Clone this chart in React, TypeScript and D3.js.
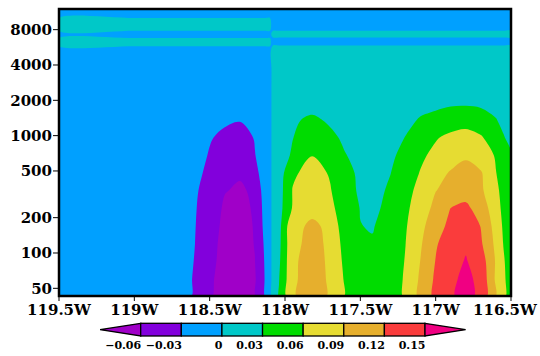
import * as d3 from "d3";

// grid longitudes, degrees east (negative = W)
const lons = [
  -119.5, -119.0, -118.7, -118.6, -118.5, -118.4, -118.3, -118.2, -118.13, -118.1,
  -118.08, -118.04, -117.95, -117.82, -117.7, -117.6, -117.5, -117.42, -117.3, -117.2,
  -117.1, -117.0, -116.9, -116.8, -116.7, -116.6, -116.55, -116.5,
];

// grid levels, bottom to top
const levels = [43, 60, 85, 120, 170, 240, 340, 480, 680, 960, 1350, 1900, 2700, 3800, 5200, 6250, 7300, 8900, 12000];

// values, one row per level (bottom first), one column per lon
const field = [
  [-0.015, -0.015, -0.015, -0.034, -0.0565, -0.074, -0.075, -0.063, -0.027, -0.012, 0.012, 0.032, 0.085, 0.11, 0.085, 0.058, 0.045, 0.041, 0.048, 0.063, 0.098, 0.127, 0.146, 0.16, 0.142, 0.089, 0.067, 0.045],
  [-0.015, -0.015, -0.015, -0.033, -0.055, -0.072, -0.074, -0.063, -0.027, -0.012, 0.012, 0.029, 0.084, 0.106, 0.085, 0.0564, 0.045, 0.039, 0.047, 0.063, 0.095, 0.125, 0.144, 0.157, 0.1425, 0.085, 0.0657, 0.0443],
  [-0.015, -0.015, -0.015, -0.031, -0.0518, -0.07, -0.072, -0.0605, -0.026, -0.012, 0.012, 0.025, 0.085, 0.102, 0.085, 0.0527, 0.042, 0.036, 0.044, 0.0615, 0.0909, 0.121, 0.1387, 0.152, 0.136, 0.087, 0.063, 0.045],
  [-0.015, -0.015, -0.015, -0.0295, -0.0496, -0.0692, -0.071, -0.059, -0.0236, -0.012, 0.012, 0.0225, 0.084, 0.097, 0.0858, 0.0476, 0.038, 0.032, 0.041, 0.0598, 0.087, 0.117, 0.136, 0.146, 0.124, 0.083, 0.059, 0.043],
  [-0.015, -0.015, -0.015, -0.0286, -0.0475, -0.0664, -0.069, -0.0584, -0.0195, -0.012, 0.012, 0.0205, 0.085, 0.093, 0.0865, 0.0377, 0.0305, 0.0285, 0.04, 0.0575, 0.0819, 0.1085, 0.127, 0.139, 0.119, 0.078, 0.056, 0.042],
  [-0.015, -0.015, -0.015, -0.0275, -0.0456, -0.0637, -0.067, -0.0572, -0.0172, -0.012, 0.012, 0.019, 0.062, 0.0855, 0.0656, 0.0476, 0.029, 0.022, 0.0399, 0.0545, 0.0748, 0.098, 0.1205, 0.127, 0.106, 0.0731, 0.052, 0.041],
  [-0.015, -0.015, -0.015, -0.0262, -0.0411, -0.0589, -0.063, -0.0563, -0.012, -0.012, 0.012, 0.0173, 0.061, 0.078, 0.0615, 0.0432, 0.025, 0.02, 0.0345, 0.0507, 0.0687, 0.0893, 0.0986, 0.107, 0.0948, 0.0678, 0.0489, 0.043],
  [-0.015, -0.015, -0.015, -0.0232, -0.0359, -0.0486, -0.0575, -0.0345, -0.022, -0.012, 0.012, 0.015, 0.056, 0.069, 0.058, 0.0397, 0.024, 0.018, 0.0295, 0.0453, 0.0617, 0.0798, 0.0925, 0.098, 0.093, 0.0605, 0.052, 0.042],
  [-0.015, -0.015, -0.015, -0.019, -0.032, -0.0425, -0.0495, -0.0307, -0.019, -0.012, 0.012, 0.013, 0.0342, 0.0595, 0.044, 0.031, 0.022, 0.016, 0.025, 0.0386, 0.055, 0.0671, 0.0774, 0.087, 0.072, 0.058, 0.048, 0.033],
  [-0.015, -0.015, -0.015, -0.016, -0.028, -0.036, -0.0405, -0.0286, -0.018, -0.012, 0.012, 0.013, 0.029, 0.05, 0.0362, 0.025, 0.019, 0.015, 0.018, 0.031, 0.0444, 0.0578, 0.0668, 0.073, 0.0632, 0.0442, 0.032, 0.022],
  [-0.015, -0.015, -0.015, -0.015, -0.02, -0.026, -0.029, -0.025, -0.016, -0.012, 0.012, 0.014, 0.026, 0.0355, 0.026, 0.019, 0.016, 0.015, 0.016, 0.022, 0.033, 0.04, 0.045, 0.0473, 0.042, 0.0315, 0.023, 0.018],
  [-0.015, -0.015, -0.015, -0.015, -0.015, -0.015, -0.015, -0.015, -0.015, -0.012, 0.012, 0.014, 0.016, 0.018, 0.016, 0.015, 0.015, 0.015, 0.015, 0.016, 0.02, 0.022, 0.026, 0.0265, 0.025, 0.02, 0.017, 0.016],
  [-0.015, -0.015, -0.015, -0.015, -0.015, -0.015, -0.015, -0.015, -0.015, -0.012, 0.012, 0.015, 0.015, 0.015, 0.015, 0.015, 0.015, 0.015, 0.015, 0.015, 0.016, 0.017, 0.018, 0.018, 0.018, 0.016, 0.015, 0.015],
  [-0.015, -0.015, -0.015, -0.015, -0.015, -0.015, -0.015, -0.015, -0.015, -0.012, 0.012, 0.015, 0.015, 0.015, 0.015, 0.015, 0.015, 0.015, 0.015, 0.015, 0.015, 0.015, 0.015, 0.015, 0.015, 0.015, 0.015, 0.015],
  [-0.0058, -0.0058, -0.0058, -0.0058, -0.0058, -0.0058, -0.0058, -0.0058, -0.0058, -0.0058, 0.0159, 0.0159, 0.0159, 0.0159, 0.0159, 0.0159, 0.0159, 0.0159, 0.0159, 0.0159, 0.0159, 0.0159, 0.0159, 0.0159, 0.0159, 0.0159, 0.0159, 0.0159],
  [0.0042, 0.0042, 0.0042, 0.0042, 0.0042, 0.0042, 0.0042, 0.0042, 0.0042, 0.0042, -0.0081, -0.0081, -0.0081, -0.0081, -0.0081, -0.0081, -0.0081, -0.0081, -0.0081, -0.0081, -0.0081, -0.0081, -0.0081, -0.0081, -0.0081, -0.0081, -0.0081, -0.0081],
  [-0.0038, -0.0038, -0.0038, -0.0038, -0.0038, -0.0038, -0.0038, -0.0038, -0.0038, -0.0038, 0.0054, 0.0054, 0.0054, 0.0054, 0.0054, 0.0054, 0.0054, 0.0054, 0.0054, 0.0054, 0.0054, 0.0054, 0.0054, 0.0054, 0.0054, 0.0054, 0.0054, 0.0054],
  [0.007, 0.007, 0.007, 0.007, 0.007, 0.007, 0.007, 0.007, 0.007, 0.007, -0.01, -0.01, -0.01, -0.01, -0.01, -0.01, -0.01, -0.01, -0.01, -0.01, -0.01, -0.01, -0.01, -0.01, -0.01, -0.01, -0.01, -0.01],
  [-0.01, -0.01, -0.01, -0.01, -0.01, -0.01, -0.01, -0.01, -0.01, -0.01, -0.01, -0.01, -0.01, -0.01, -0.01, -0.01, -0.01, -0.01, -0.01, -0.01, -0.01, -0.01, -0.01, -0.01, -0.01, -0.01, -0.01, -0.01],
];

const thresholds = [-0.06, -0.03, 0, 0.03, 0.06, 0.09, 0.12, 0.15];
const bandColors = ["#a000c8", "#8200dc", "#00a0ff", "#00c8c8", "#00dc00", "#e6dc32", "#e6af2d", "#fa3c3c", "#f00082"];
const cbarLabels = ["\u22120.06", "\u22120.03", "0", "0.03", "0.06", "0.09", "0.12", "0.15"];
const levelTicks = [50, 100, 200, 500, 1000, 2000, 4000, 8000];
const lonTicks = [-119.5, -119, -118.5, -118, -117.5, -117, -116.5];

const FONT = "'DejaVu Serif', serif";

export default function App() {
  const width = 540;
  const height = 356;
  const left = 59, right = 511, top = 9, bottom = 296;

  const x = d3.scaleLinear().domain([-119.5, -116.5]).range([left, right]);
  const y = d3.scaleLog().domain([43, 12000]).range([bottom, top]);

  const nx = lons.length;
  const ny = levels.length;

  // contour coords are in grid space (value i sits at i + 0.5)
  const gx = (c) => {
    const t = Math.max(0, Math.min(nx - 1, c - 0.5));
    const i = Math.min(nx - 2, Math.floor(t));
    const f = t - i;
    return x(lons[i] + f * (lons[i + 1] - lons[i]));
  };
  const gy = (c) => {
    const t = Math.max(0, Math.min(ny - 1, c - 0.5));
    const i = Math.min(ny - 2, Math.floor(t));
    const f = t - i;
    return y(levels[i]) + f * (y(levels[i + 1]) - y(levels[i]));
  };

  const bands = d3.contours().size([nx, ny]).thresholds(thresholds)(field.flat());

  // smooth the marching-squares rings a little, like the original raster fill
  const ring = d3.line().curve(d3.curveCatmullRomClosed.alpha(0.5));
  const bandPath = (mp) =>
    mp.coordinates
      .map((poly) =>
        poly
          .map((r) => ring(r.slice(0, -1).map(([a, b]) => [gx(a), gy(b)])))
          .join("")
      )
      .join("");

  // colorbar
  const cb = d3.scaleLinear().domain([0, thresholds.length - 1]).range([140.7, 425]);
  const boxW = cb(1) - cb(0);
  const cbTop = 323.3, cbBot = 336, cbMid = (cbTop + cbBot) / 2;

  return (
    <svg width={width} height={height} style={{ position: "absolute", left: 0, top: 0, background: "#fff" }}>
      <defs>
        <clipPath id="plot-clip">
          <rect x={left} y={top} width={right - left} height={bottom - top} />
        </clipPath>
      </defs>
      <g clipPath="url(#plot-clip)">
        <rect x={left} y={top} width={right - left} height={bottom - top} fill={bandColors[0]} />
        {bands.map((b, i) => (
          <path key={i} d={bandPath(b)} fill={bandColors[i + 1]} />
        ))}
      </g>
      <rect x={left} y={top} width={right - left} height={bottom - top} fill="none" stroke="#000" strokeWidth={2.5} />

      {levelTicks.map((v) => (
        <g key={v}>
          <line x1={left - 6} x2={left} y1={y(v)} y2={y(v)} stroke="#000" strokeWidth={1} />
          <text x={52} y={y(v)} dy="0.36em" textAnchor="end" fontFamily={FONT} fontWeight="bold" fontSize={15}>
            {v}
          </text>
        </g>
      ))}
      {lonTicks.map((v) => (
        <g key={v}>
          <line x1={x(v)} x2={x(v)} y1={bottom} y2={bottom + 5} stroke="#000" strokeWidth={1} />
          <text x={Math.min(x(v), 505)} y={315} textAnchor="middle" fontFamily={FONT} fontWeight="bold" fontSize={15}>
            {`${Math.abs(v)}W`}
          </text>
        </g>
      ))}

      <g stroke="#000" strokeWidth={1.3}>
        <polygon
          points={`${cb(0)},${cbTop} ${cb(0) - boxW},${cbMid} ${cb(0)},${cbBot}`}
          fill={bandColors[0]}
        />
        {thresholds.slice(0, -1).map((t, i) => (
          <rect key={t} x={cb(i)} y={cbTop} width={boxW} height={cbBot - cbTop} fill={bandColors[i + 1]} />
        ))}
        <polygon
          points={`${cb(7)},${cbTop} ${cb(7) + boxW},${cbMid} ${cb(7)},${cbBot}`}
          fill={bandColors[8]}
        />
      </g>
      {cbarLabels.map((s, i) => (
        <text key={s} x={cb(i) + 0.5} y={349} textAnchor="end" fontFamily={FONT} fontWeight="bold" fontSize={11}>
          {s}
        </text>
      ))}
    </svg>
  );
}
